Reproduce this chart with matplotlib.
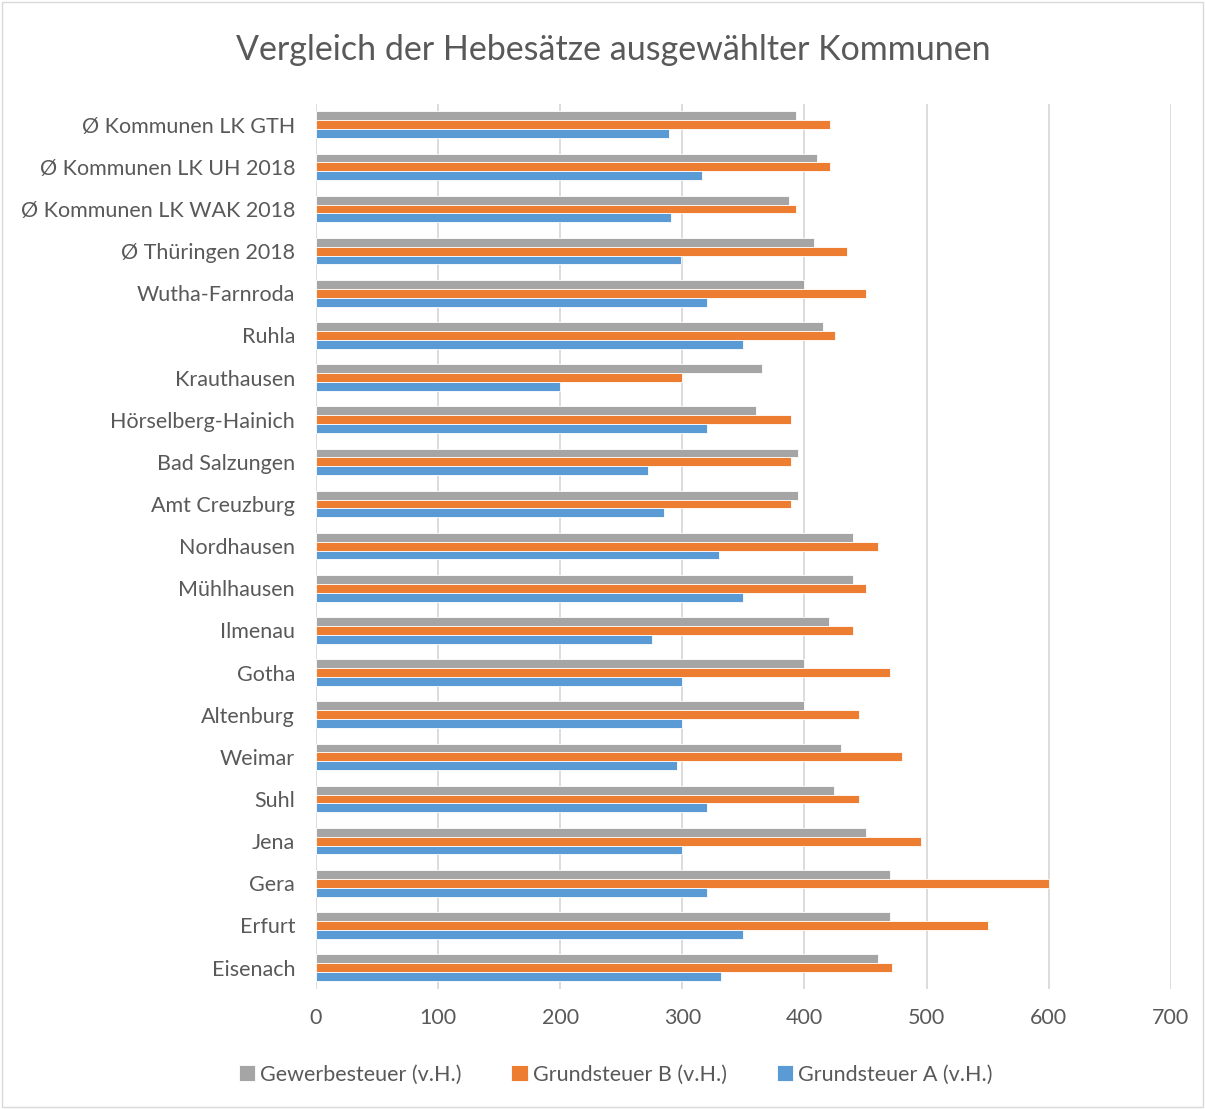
import matplotlib
matplotlib.use("Agg")
import matplotlib.pyplot as plt
import numpy as np

categories = ["Ø Kommunen LK GTH", "Ø Kommunen LK UH 2018", "Ø Kommunen LK WAK 2018",
              "Ø Thüringen 2018", "Wutha-Farnroda", "Ruhla", "Krauthausen",
              "Hörselberg-Hainich", "Bad Salzungen", "Amt Creuzburg", "Nordhausen",
              "Mühlhausen", "Ilmenau", "Gotha", "Altenburg", "Weimar", "Suhl",
              "Jena", "Gera", "Erfurt", "Eisenach"]
gewerbe = [393, 410, 387, 408, 400, 415, 365, 360, 395, 395, 440, 440, 420, 400,
           400, 430, 424, 450, 470, 470, 460]
grund_b = [421, 421, 393, 435, 450, 425, 300, 389, 389, 389, 460, 450, 440, 470,
           445, 480, 445, 495, 600, 550, 472]
grund_a = [289, 316, 291, 299, 320, 350, 200, 320, 272, 285, 330, 350, 275, 300,
           300, 296, 320, 300, 320, 350, 332]
series_names = ["Gewerbesteuer (v.H.)", "Grundsteuer B (v.H.)", "Grundsteuer A (v.H.)"]
xticks = [0, 100, 200, 300, 400, 500, 600, 700]

colors = ["#A5A5A5", "#ED7D31", "#5B9BD5"]
txt = "#595959"
plt.rcParams['font.family'] = ['Lato', 'DejaVu Sans']

fig = plt.figure(figsize=(12.05, 11.09), dpi=100)
ax = fig.add_axes([0.2622, 0.1085, 0.7095, 0.798])

n = len(categories)
y = np.arange(n)
h = 0.21
for i, (vals, c, name) in enumerate(zip([gewerbe, grund_b, grund_a], colors, series_names)):
    ax.barh(y + (i - 1) * h, vals, height=h, color=c, edgecolor="white",
            linewidth=0.6, label=name, zorder=3)

ax.set_ylim(n - 0.5, -0.5)
ax.set_xlim(0, 700)
ax.set_xticks(xticks)
ax.set_xticklabels([str(t) for t in xticks])
ax.set_yticks(y)
ax.set_yticklabels(categories)
ax.tick_params(axis='both', length=0, labelsize=15.5, colors=txt)
ax.tick_params(axis='y', pad=15)
ax.tick_params(axis='x', pad=14)
ax.grid(axis='x', color="#D9D9D9", linewidth=1.3, zorder=0)
for s in ax.spines.values():
    s.set_visible(False)

fig.text(0.509, 0.955, "Vergleich der Hebesätze ausgewählter Kommunen",
         ha='center', va='center', fontsize=24.5, color=txt)

leg = fig.legend(loc='center', bbox_to_anchor=(0.511, 0.031), ncol=3, frameon=False,
                 fontsize=15.5, handlelength=0.75, handleheight=0.75,
                 handletextpad=0.25, columnspacing=2.3)
for t in leg.get_texts():
    t.set_color(txt)

border = plt.Rectangle((0.002, 0.002), 0.996, 0.996, transform=fig.transFigure,
                       fill=False, edgecolor="#D9D9D9", linewidth=1.0)
fig.patches.append(border)

fig.savefig("out.png", dpi=100, facecolor="white")
